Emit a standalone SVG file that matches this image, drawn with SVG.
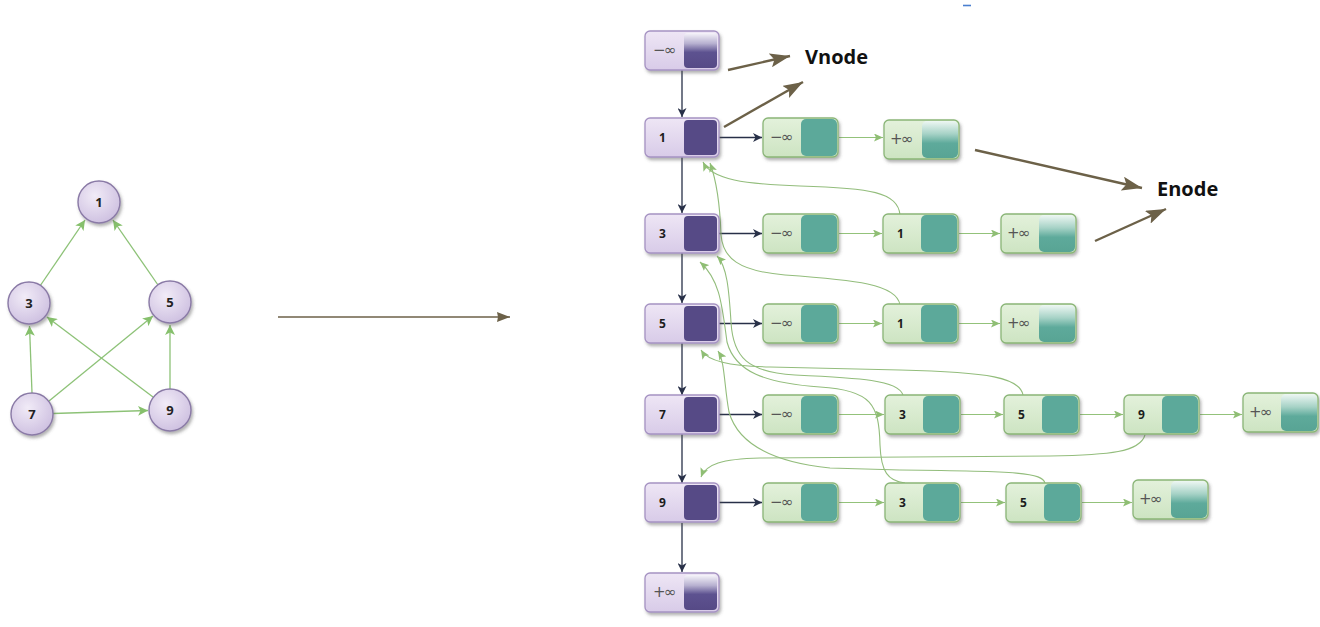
<svg xmlns="http://www.w3.org/2000/svg" width="1320" height="627" viewBox="0 0 1320 627">
  <defs>
    <linearGradient id="gVnode" x1="0" y1="0" x2="0" y2="1">
      <stop offset="0" stop-color="#eee6f5"/>
      <stop offset="1" stop-color="#d8cbe8"/>
    </linearGradient>
    <linearGradient id="gEnode" x1="0" y1="0" x2="0" y2="1">
      <stop offset="0" stop-color="#e3f1db"/>
      <stop offset="1" stop-color="#cde4c2"/>
    </linearGradient>
    <linearGradient id="gGlossPurple" x1="0" y1="0" x2="0" y2="1">
      <stop offset="0" stop-color="#f6f4fa"/>
      <stop offset="0.3" stop-color="#b7b0d0"/>
      <stop offset="0.55" stop-color="#5d5290"/>
      <stop offset="1" stop-color="#564a86"/>
    </linearGradient>
    <linearGradient id="gGlossTeal" x1="0" y1="0" x2="0" y2="1">
      <stop offset="0" stop-color="#eef7f3"/>
      <stop offset="0.35" stop-color="#a6d2c6"/>
      <stop offset="0.6" stop-color="#5eaa9b"/>
      <stop offset="1" stop-color="#58a494"/>
    </linearGradient>
    <radialGradient id="gCircle" cx="0.4" cy="0.35" r="0.7">
      <stop offset="0" stop-color="#f1ebf7"/>
      <stop offset="1" stop-color="#cdbfe0"/>
    </radialGradient>
    <filter id="shadow" x="-20%" y="-20%" width="150%" height="160%">
      <feDropShadow dx="1.5" dy="2.5" stdDeviation="1.5" flood-color="#555" flood-opacity="0.45"/>
    </filter>
    <marker id="mDark" markerUnits="userSpaceOnUse" markerWidth="10" markerHeight="9" refX="9" refY="4.5" orient="auto">
      <path d="M0,0 L9,4.5 L0,9 L2.5,4.5 z" fill="#283048"/>
    </marker>
    <marker id="mGreen" markerUnits="userSpaceOnUse" markerWidth="10" markerHeight="8" refX="9" refY="4" orient="auto">
      <path d="M0,0 L9,4 L0,8 L2,4 z" fill="#8fbe74"/>
    </marker>
    <marker id="mGraph" markerUnits="userSpaceOnUse" markerWidth="11" markerHeight="10" refX="10" refY="5" orient="auto">
      <path d="M0,0 L10,5 L0,10 L2.5,5 z" fill="#86c06c"/>
    </marker>
    <marker id="mBrown" markerUnits="userSpaceOnUse" markerWidth="22" markerHeight="14" refX="20" refY="7" orient="auto">
      <path d="M0,0 L20,7 L0,14 L4,7 z" fill="#6c6148"/>
    </marker>
    <marker id="mBrownSmall" markerUnits="userSpaceOnUse" markerWidth="14" markerHeight="10" refX="13" refY="5" orient="auto">
      <path d="M0,0 L13,5 L0,10 L1,5 z" fill="#6c6148"/>
    </marker>
  </defs>
  <style>
    .circ { fill: url(#gCircle); stroke: #8a7aa6; stroke-width: 1.4; filter: url(#shadow); }
    .vbox { fill: url(#gVnode); stroke: #a592c2; stroke-width: 1.3; filter: url(#shadow); }
    .vsq { fill: #564a86; }
    .vsqg { fill: url(#gGlossPurple); }
    .ebox { fill: url(#gEnode); stroke: #8ab577; stroke-width: 1.3; filter: url(#shadow); }
    .esq { fill: #5ca99a; }
    .esqg { fill: url(#gGlossTeal); }
    .num { font-family: "Open Sans", "Liberation Sans", sans-serif; font-weight: bold; font-size: 12px; fill: #1c1c1c; }
    .inf { font-family: "DejaVu Sans", sans-serif; font-size: 15px; fill: #555; letter-spacing: -1.5px; }
    .cnum { font-family: "Open Sans", "Liberation Sans", sans-serif; font-weight: bold; font-size: 13px; fill: #222; text-anchor: middle; }
    .label { font-family: "Open Sans", "Liberation Sans", sans-serif; font-weight: bold; font-size: 20px; fill: #111; }
    .gedge { fill: none; stroke: #8dc277; stroke-width: 1.3; marker-end: url(#mGraph); }
    .dark { fill: none; stroke: #283048; stroke-width: 1.3; marker-end: url(#mDark); }
    .green { fill: none; stroke: #93c27a; stroke-width: 1.2; marker-end: url(#mGreen); }
    .back { fill: none; stroke: #93bd7c; stroke-width: 1.1; marker-end: url(#mGreen); }
    .brown { fill: none; stroke: #6c6148; stroke-width: 2.4; marker-end: url(#mBrown); }
  </style>

  <!-- small graph on the left -->
  <g id="graph-edges">
    <line class="gedge" x1="40" y1="286" x2="85" y2="220"/>
    <line class="gedge" x1="158" y1="285" x2="113" y2="220"/>
    <line class="gedge" x1="32" y1="393" x2="29.5" y2="326"/>
    <line class="gedge" x1="49" y1="401" x2="153" y2="316"/>
    <line class="gedge" x1="153" y1="397" x2="47" y2="317"/>
    <line class="gedge" x1="170" y1="389" x2="170" y2="325"/>
    <line class="gedge" x1="53" y1="413.5" x2="148" y2="410.5"/>
  </g>
  <g id="g1"><circle class="circ" cx="99" cy="202" r="21"/><text class="cnum" x="99" y="207">1</text></g>
  <g id="g3"><circle class="circ" cx="29" cy="303" r="21"/><text class="cnum" x="29" y="308">3</text></g>
  <g id="g5"><circle class="circ" cx="170" cy="302" r="21"/><text class="cnum" x="170" y="307">5</text></g>
  <g id="g7"><circle class="circ" cx="32" cy="414" r="21"/><text class="cnum" x="32" y="419">7</text></g>
  <g id="g9"><circle class="circ" cx="170" cy="410" r="21"/><text class="cnum" x="170" y="415">9</text></g>

  <!-- transformation arrow -->
  <line x1="278" y1="317" x2="510" y2="317" stroke="#6c6148" stroke-width="1.6" marker-end="url(#mBrownSmall)"/>

  <!-- connectors of the adjacency structure -->
  <g id="connectors">
    <!-- vertex list -->
    <line class="dark" x1="682" y1="70" x2="682" y2="117"/>
    <line class="dark" x1="682" y1="157" x2="682" y2="213"/>
    <line class="dark" x1="682" y1="253" x2="682" y2="303"/>
    <line class="dark" x1="682" y1="343" x2="682" y2="395"/>
    <line class="dark" x1="682" y1="434" x2="682" y2="483"/>
    <line class="dark" x1="682" y1="523" x2="682" y2="572"/>
    <!-- vertex to its edge list -->
    <line class="dark" x1="719" y1="137.5" x2="762" y2="137.5"/>
    <line class="dark" x1="719" y1="233.5" x2="762" y2="233.5"/>
    <line class="dark" x1="719" y1="323.5" x2="762" y2="323.5"/>
    <line class="dark" x1="719" y1="414.5" x2="762" y2="414.5"/>
    <line class="dark" x1="719" y1="502.5" x2="762" y2="502.5"/>
    <!-- edge lists -->
    <line class="green" x1="839" y1="137.5" x2="883" y2="137.5"/>
    <line class="green" x1="839" y1="233.5" x2="882" y2="233.5"/>
    <line class="green" x1="959" y1="233.5" x2="1000" y2="233.5"/>
    <line class="green" x1="839" y1="323.5" x2="882" y2="323.5"/>
    <line class="green" x1="959" y1="323.5" x2="1000" y2="323.5"/>
    <line class="green" x1="839" y1="414.5" x2="884" y2="414.5"/>
    <line class="green" x1="961" y1="414.5" x2="1003" y2="414.5"/>
    <line class="green" x1="1080" y1="414.5" x2="1123" y2="414.5"/>
    <line class="green" x1="1200" y1="414.5" x2="1242" y2="414.5"/>
    <line class="green" x1="839" y1="502.5" x2="884" y2="502.5"/>
    <line class="green" x1="961" y1="502.5" x2="1005" y2="502.5"/>
    <line class="green" x1="1082" y1="502.5" x2="1132" y2="502.5"/>
    <!-- edge nodes back to their target vertices -->
    <path class="back" d="M900 215 C898 192, 870 188, 800 186 C745 184, 712 180, 703 162"/>
    <path class="back" d="M900 305 C897 284, 855 280, 785 275 C738 271, 723 258, 721 235 C720 205, 717 182, 710 163"/>
    <path class="back" d="M903 395 C898 380, 860 378, 795 375 C748 372, 733 358, 731 322 C729 290, 727 266, 717 256"/>
    <path class="back" d="M905 483 C888 481, 881 472, 880 445 C879 405, 872 390, 820 387 C765 383, 735 372, 727 342 C722 305, 720 280, 700 262"/>
    <path class="back" d="M1023 395 C1020 378, 990 372, 900 370 L770 367 C728 366, 708 361, 701 350"/>
    <path class="back" d="M1045 483 C1042 473, 1020 471, 900 470 L830 468 C772 462, 738 444, 729 412 C724 385, 725 362, 718 351"/>
    <path class="back" d="M1145 435 C1140 452, 1110 455, 1050 456 L760 458 C722 459, 706 464, 701 477"/>
  </g>

  <!-- vertex nodes -->
  <g id="v-neginf"><rect class="vbox" x="645" y="31" width="74" height="39" rx="5"/><rect class="vsqg" x="684" y="33" width="33" height="35" rx="4"/><text class="inf" x="653" y="55">−∞</text></g>
  <g id="v1"><rect class="vbox" x="645" y="118" width="74" height="39" rx="5"/><rect class="vsq" x="684" y="120" width="33" height="35" rx="4"/><text class="num" x="659" y="142">1</text></g>
  <g id="v3"><rect class="vbox" x="645" y="214" width="74" height="39" rx="5"/><rect class="vsq" x="684" y="216" width="33" height="35" rx="4"/><text class="num" x="659" y="238">3</text></g>
  <g id="v5"><rect class="vbox" x="645" y="304" width="74" height="39" rx="5"/><rect class="vsq" x="684" y="306" width="33" height="35" rx="4"/><text class="num" x="659" y="328">5</text></g>
  <g id="v7"><rect class="vbox" x="645" y="395" width="74" height="39" rx="5"/><rect class="vsq" x="684" y="397" width="33" height="35" rx="4"/><text class="num" x="659" y="419">7</text></g>
  <g id="v9"><rect class="vbox" x="645" y="483" width="74" height="39" rx="5"/><rect class="vsq" x="684" y="485" width="33" height="35" rx="4"/><text class="num" x="659" y="507">9</text></g>
  <g id="v-posinf"><rect class="vbox" x="645" y="573" width="74" height="39" rx="5"/><rect class="vsqg" x="684" y="575" width="33" height="35" rx="4"/><text class="inf" x="653" y="597">+∞</text></g>

  <!-- edge nodes: row of vertex 1 -->
  <g id="e1-neginf"><rect class="ebox" x="763" y="118" width="75" height="39" rx="5"/><rect class="esq" x="801" y="119" width="36" height="37" rx="5"/><text class="inf" x="770" y="142">−∞</text></g>
  <g id="e1-posinf"><rect class="ebox" x="884" y="120" width="75" height="39" rx="5"/><rect class="esqg" x="922" y="121" width="36" height="37" rx="5"/><text class="inf" x="890" y="144">+∞</text></g>
  <!-- row of vertex 3 -->
  <g id="e3-neginf"><rect class="ebox" x="763" y="214" width="75" height="39" rx="5"/><rect class="esq" x="801" y="215" width="36" height="37" rx="5"/><text class="inf" x="770" y="238">−∞</text></g>
  <g id="e3-1"><rect class="ebox" x="883" y="214" width="75" height="39" rx="5"/><rect class="esq" x="921" y="215" width="36" height="37" rx="5"/><text class="num" x="897" y="238">1</text></g>
  <g id="e3-posinf"><rect class="ebox" x="1001" y="214" width="75" height="39" rx="5"/><rect class="esqg" x="1039" y="215" width="36" height="37" rx="5"/><text class="inf" x="1007" y="238">+∞</text></g>
  <!-- row of vertex 5 -->
  <g id="e5-neginf"><rect class="ebox" x="763" y="304" width="75" height="39" rx="5"/><rect class="esq" x="801" y="305" width="36" height="37" rx="5"/><text class="inf" x="770" y="328">−∞</text></g>
  <g id="e5-1"><rect class="ebox" x="883" y="304" width="75" height="39" rx="5"/><rect class="esq" x="921" y="305" width="36" height="37" rx="5"/><text class="num" x="897" y="328">1</text></g>
  <g id="e5-posinf"><rect class="ebox" x="1001" y="304" width="75" height="39" rx="5"/><rect class="esqg" x="1039" y="305" width="36" height="37" rx="5"/><text class="inf" x="1007" y="328">+∞</text></g>
  <!-- row of vertex 7 -->
  <g id="e7-neginf"><rect class="ebox" x="763" y="395" width="75" height="39" rx="5"/><rect class="esq" x="801" y="396" width="36" height="37" rx="5"/><text class="inf" x="770" y="419">−∞</text></g>
  <g id="e7-3"><rect class="ebox" x="885" y="395" width="75" height="39" rx="5"/><rect class="esq" x="923" y="396" width="36" height="37" rx="5"/><text class="num" x="899" y="419">3</text></g>
  <g id="e7-5"><rect class="ebox" x="1004" y="395" width="75" height="39" rx="5"/><rect class="esq" x="1042" y="396" width="36" height="37" rx="5"/><text class="num" x="1018" y="419">5</text></g>
  <g id="e7-9"><rect class="ebox" x="1124" y="395" width="75" height="39" rx="5"/><rect class="esq" x="1162" y="396" width="36" height="37" rx="5"/><text class="num" x="1138" y="419">9</text></g>
  <g id="e7-posinf"><rect class="ebox" x="1243" y="393" width="75" height="39" rx="5"/><rect class="esqg" x="1281" y="394" width="36" height="37" rx="5"/><text class="inf" x="1249" y="417">+∞</text></g>
  <!-- row of vertex 9 -->
  <g id="e9-neginf"><rect class="ebox" x="763" y="483" width="75" height="39" rx="5"/><rect class="esq" x="801" y="484" width="36" height="37" rx="5"/><text class="inf" x="770" y="507">−∞</text></g>
  <g id="e9-3"><rect class="ebox" x="885" y="483" width="75" height="39" rx="5"/><rect class="esq" x="923" y="484" width="36" height="37" rx="5"/><text class="num" x="899" y="507">3</text></g>
  <g id="e9-5"><rect class="ebox" x="1006" y="483" width="75" height="39" rx="5"/><rect class="esq" x="1044" y="484" width="36" height="37" rx="5"/><text class="num" x="1020" y="507">5</text></g>
  <g id="e9-posinf"><rect class="ebox" x="1133" y="480" width="75" height="39" rx="5"/><rect class="esqg" x="1171" y="481" width="36" height="37" rx="5"/><text class="inf" x="1139" y="504">+∞</text></g>

  <!-- annotations -->
  <g id="annotations">
    <line class="brown" x1="728" y1="70" x2="790" y2="56"/>
    <line class="brown" x1="724" y1="127" x2="803" y2="82"/>
    <line class="brown" x1="975" y1="150" x2="1142" y2="188"/>
    <line class="brown" x1="1095" y1="241" x2="1166" y2="209"/>
    <text class="label" x="805" y="64">Vnode</text>
    <text class="label" x="1157" y="196">Enode</text>
  </g>
  <line x1="963" y1="5.5" x2="971" y2="5.5" stroke="#4a7fd0" stroke-width="1.6"/>
</svg>
